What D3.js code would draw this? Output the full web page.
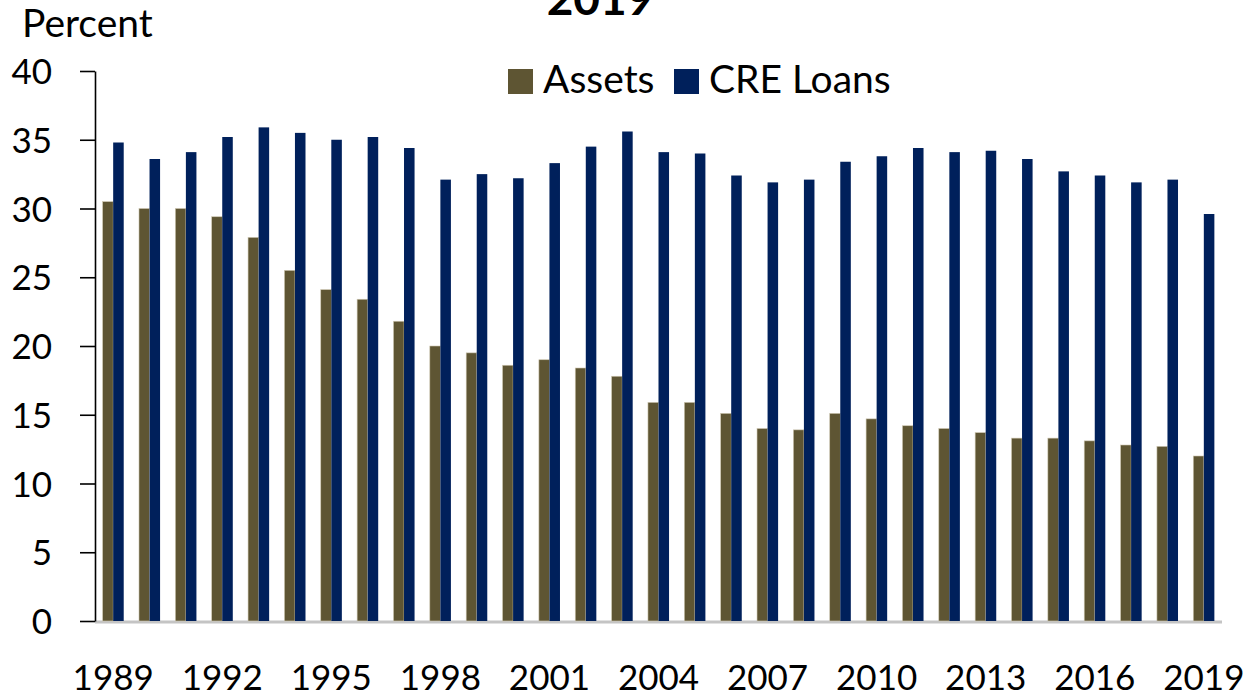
<!DOCTYPE html>
<html>
<head>
<meta charset="utf-8">
<script src="https://cdn.jsdelivr.net/npm/d3@7"></script>
<style>
  html, body { margin: 0; padding: 0; background: #fff; }
  svg { display: block; font-family: Lato, "Open Sans", sans-serif; }
</style>
</head>
<body>
<svg id="chart" width="1250" height="697"></svg>
<script>
const years = d3.range(1989, 2020).map(String);
const seriesNames = ["Assets", "CRE Loans"];
const assets = [30.5, 30.0, 30.0, 29.4, 27.9, 25.5, 24.1, 23.4, 21.8, 20.0, 19.5,
                18.6, 19.0, 18.4, 17.8, 15.9, 15.9, 15.1, 14.0, 13.9, 15.1,
                14.7, 14.2, 14.0, 13.7, 13.3, 13.3, 13.1, 12.8, 12.7, 12.0];
const creLoans = [34.8, 33.6, 34.1, 35.2, 35.9, 35.5, 35.0, 35.2, 34.4, 32.1, 32.5,
                  32.2, 33.3, 34.5, 35.6, 34.1, 34.0, 32.4, 31.9, 32.1, 33.4,
                  33.8, 34.4, 34.1, 34.2, 33.6, 32.7, 32.4, 31.9, 32.1, 29.6];
const yTicks = [0, 5, 10, 15, 20, 25, 30, 35, 40];
const xTickLabels = ["1989","1992","1995","1998","2001","2004","2007","2010","2013","2016","2019"];
const colors = ["#5e5533", "#00205b"];

const svg = d3.select("#chart");
const mLeft = 95, mRight = 1222, mTop = 71, mBottom = 621;

const x0 = d3.scaleBand().domain(years).range([mLeft, mRight]).paddingInner(0.42).paddingOuter(0.21);
const x1 = d3.scaleBand().domain(seriesNames).range([0, x0.bandwidth()]);
const y = d3.scaleLinear().domain([0, 40]).range([mBottom, mTop]);

const data = years.map((yr, i) => ({ year: yr, values: [assets[i], creLoans[i]] }));

// baseline (gray)
svg.append("line")
  .attr("x1", mLeft).attr("x2", mRight)
  .attr("y1", mBottom + 1).attr("y2", mBottom + 1)
  .attr("stroke", "#c4c4c4").attr("stroke-width", 3);

// bars
const g = svg.append("g");
const groups = g.selectAll("g.grp").data(data).join("g")
  .attr("class", "grp")
  .attr("transform", d => `translate(${x0(d.year)},0)`);
groups.selectAll("rect").data(d => d.values.map((v, k) => ({ key: seriesNames[k], v, k })))
  .join("rect")
  .attr("x", d => x1(d.key))
  .attr("width", x1.bandwidth())
  .attr("y", d => y(d.v))
  .attr("height", d => y(0) - y(d.v))
  .attr("fill", d => colors[d.k])
  .attr("stroke", d => d.k === 0 ? "#cfc8b2" : "none")
  .attr("stroke-width", 0.6);

// y axis
const yAxis = d3.axisLeft(y).tickValues(yTicks).tickSize(15).tickPadding(28).tickSizeOuter(0);
const ya = svg.append("g").attr("transform", `translate(${mLeft},0)`).call(yAxis);
ya.select(".domain").attr("stroke", "#000").attr("stroke-width", 1.6);
ya.selectAll(".tick line").attr("stroke", "#000").attr("stroke-width", 1.6);
ya.selectAll(".tick text").attr("font-size", 35).attr("font-family", "Lato, sans-serif")
  .attr("fill", "#000").attr("dy", "0.36em");

// x axis labels
const xAxis = d3.axisBottom(x0).tickValues(xTickLabels).tickSize(0).tickPadding(0);
const xa = svg.append("g").attr("transform", "translate(0,0)").call(xAxis);
xa.select(".domain").remove();
xa.selectAll(".tick text").attr("font-size", 35).attr("font-family", "Lato, sans-serif")
  .attr("fill", "#000").attr("y", 690).attr("dy", 0);

// Percent label
svg.append("text").attr("x", 22).attr("y", 37).attr("font-size", 39).attr("fill", "#000").text("Percent");

// Title (cut off at top, as in the reference)
svg.append("text").attr("x", 600).attr("y", 15).attr("text-anchor", "middle")
  .attr("font-size", 46).attr("font-weight", "bold").attr("fill", "#000").text("2019");

// Legend
const legendItems = [{ name: "Assets", x: 508, c: colors[0] }, { name: "CRE Loans", x: 674, c: colors[1] }];
const lg = svg.append("g");
legendItems.forEach(it => {
  lg.append("rect").attr("x", it.x).attr("y", 69).attr("width", 25).attr("height", 25).attr("fill", it.c);
  lg.append("text").attr("x", it.x + 35).attr("y", 93).attr("font-size", 39).attr("fill", "#000").text(it.name);
});
</script>
</body>
</html>
